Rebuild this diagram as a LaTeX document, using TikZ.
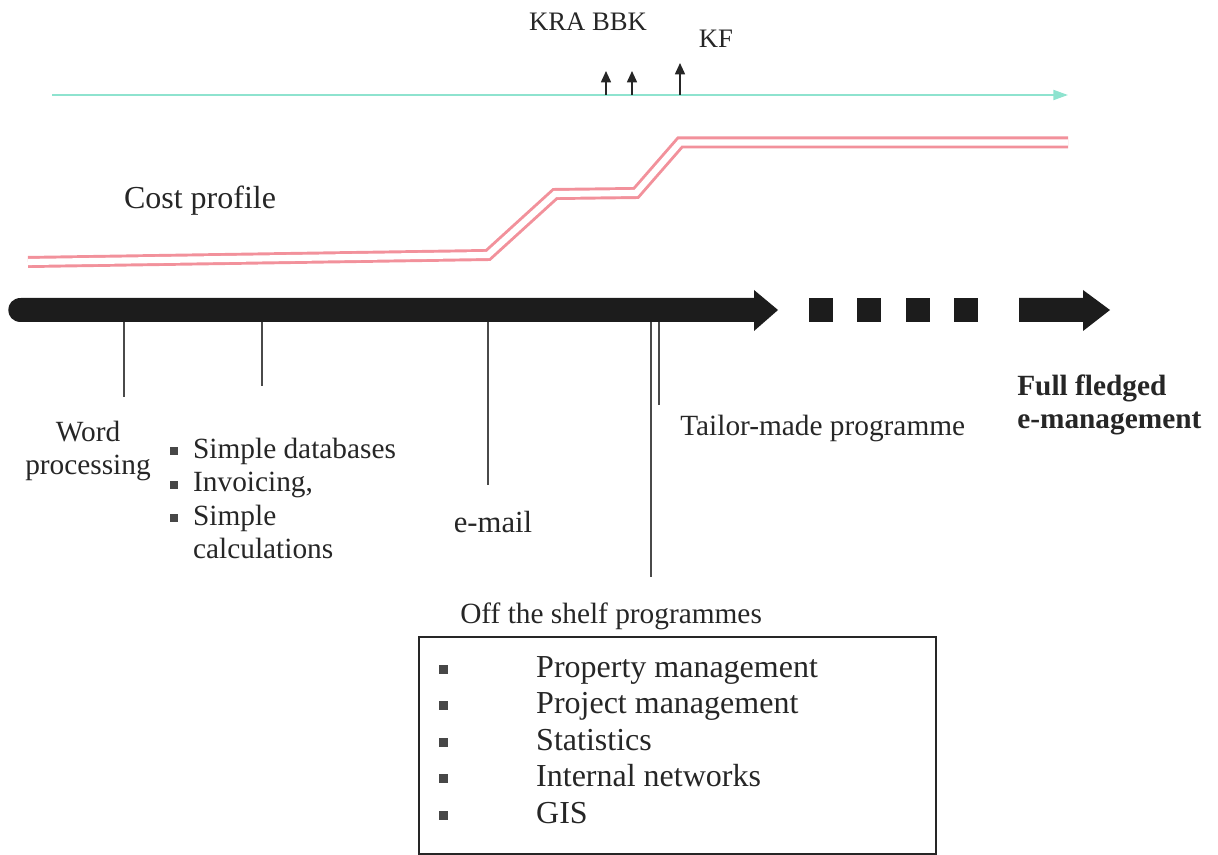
\documentclass[tikz,border=0pt]{standalone}
\usepackage{fontspec}
\setmainfont{Liberation Serif}
\usetikzlibrary{arrows.meta}
\definecolor{txt}{HTML}{262626}
\definecolor{cyanline}{HTML}{8EE3CF}
\definecolor{pinkline}{HTML}{F2919B}
\definecolor{barblack}{HTML}{1C1C1C}
\definecolor{tickgray}{HTML}{4A4A4A}
\newcommand\bul{\textcolor{txt!85}{\rule[0.11em]{0.28em}{0.28em}}}
\begin{document}
\begin{tikzpicture}[x=0.75pt,y=-0.75pt,
  lbl/.style={text=txt, inner sep=0pt, font=\fontsize{22}{25}\selectfont},
  tick/.style={draw=tickgray, line width=1.1pt},
  pointer/.style={draw=black!85, line width=1.2pt, -{Triangle[length=8.5pt,width=7.5pt]}},
  barfill/.style={fill=barblack, draw=none}]
\useasboundingbox (0,0) rectangle (1218,855);

% top timeline
\coordinate (c0) at (52,95);
\coordinate (c1) at (1068,95);
\draw[cyanline, line width=1.5pt, -{Triangle[length=11pt,width=7.5pt]}] (c0) -- (c1);
\coordinate (p1) at (606,95); \coordinate (p1t) at (606,71);
\coordinate (p2) at (632,95); \coordinate (p2t) at (632,71);
\coordinate (p3) at (680,95); \coordinate (p3t) at (680,63);
\draw[pointer] (p1) -- (p1t);
\draw[pointer] (p2) -- (p2t);
\draw[pointer] (p3) -- (p3t);
\node[lbl, font=\fontsize{20}{24}\selectfont] (kra) at (588,22) {KRA BBK};
\node[lbl, font=\fontsize{20}{24}\selectfont] (kf) at (716,39) {KF};

% cost profile
\draw[pinkline, line width=2.2pt, double=white, double distance=4.6pt, line join=miter]
  (28,262) -- (488,255) -- (555,194) -- (636,193) -- (680,142.5) -- (1068,142.5);
\node[lbl, font=\fontsize{24}{28}\selectfont] (cost) at (200,201) {Cost profile};

% main thick arrow
\fill[barfill] (21,298) -- (754,298) -- (754,290) -- (778,310) -- (754,331) -- (754,322) -- (21,322)
  .. controls (4,322) and (4,298) .. (21,298) -- cycle;
\fill[barfill] (809,298) rectangle (833,322);
\fill[barfill] (857,298) rectangle (881,322);
\fill[barfill] (906,298) rectangle (930,322);
\fill[barfill] (954,298) rectangle (978,322);
\fill[barfill] (1019,298) -- (1083,298) -- (1083,290) -- (1110,310) -- (1083,331) -- (1083,322) -- (1019,322) -- cycle;

% ticks
\coordinate (t1a) at (124,322); \coordinate (t1b) at (124,397);
\coordinate (t2a) at (262,322); \coordinate (t2b) at (262,386);
\coordinate (t3a) at (488,322); \coordinate (t3b) at (488,485);
\coordinate (t4a) at (651,322); \coordinate (t4b) at (651,577);
\coordinate (t5a) at (659,322); \coordinate (t5b) at (659,405);
\draw[tick] (t1a) -- (t1b);
\draw[tick] (t2a) -- (t2b);
\draw[tick] (t3a) -- (t3b);
\draw[tick] (t4a) -- (t4b);
\draw[tick] (t5a) -- (t5b);

% labels
\node[lbl, align=center] (word) at (88,451) {Word\\processing};
\node[lbl, anchor=west] (simple) at (170,502) {%
  \begin{tabular}{@{}l@{\hspace{11pt}}l@{}}
  \bul & Simple databases\\
  \bul & Invoicing,\\
  \bul & Simple\\
       & calculations
  \end{tabular}};
\node[lbl, font=\fontsize{23}{27}\selectfont] (email) at (493,522) {e-mail};
\node[lbl, anchor=west] (tailor) at (680,428) {Tailor-made programme};
\node[lbl, anchor=west, align=left, font=\bfseries\fontsize{22}{25}\selectfont] (full) at (1017,405) {Full fledged\\e-management};
\node[lbl, anchor=west] (offshelf) at (460,616) {Off the shelf programmes};

% box
\node[draw=txt, line width=1.3pt, minimum width=387.75pt, minimum height=162.75pt, inner sep=0pt, anchor=north west] (box) at (418,636) {};
\node[lbl, anchor=west, font=\fontsize{24}{27.4}\selectfont] (list) at (439,743) {%
  \begin{tabular}{@{}l@{\hspace{66pt}}l@{}}
  \bul & Property management\\
  \bul & Project management\\
  \bul & Statistics\\
  \bul & Internal networks\\
  \bul & GIS
  \end{tabular}};
\end{tikzpicture}
\end{document}
